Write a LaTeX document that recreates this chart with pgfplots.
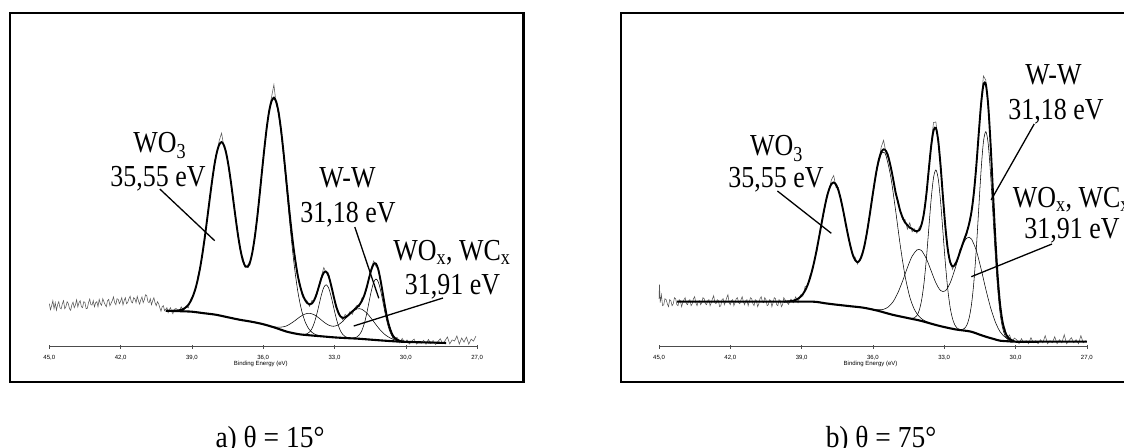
\documentclass[border=0pt]{standalone}
\usepackage{pgfplots}
\pgfplotsset{compat=1.18}
\usepackage{fontspec}
\setmainfont{Liberation Serif}
\newfontfamily\annfont[FakeStretch=0.85]{Liberation Serif}
\newfontfamily\capfont[FakeStretch=0.9]{Liberation Serif}
\newfontfamily\tickfont{Liberation Sans}
\tikzset{
  ann/.style={font=\annfont\fontsize{30.5}{30.5}\selectfont, inner sep=0pt, anchor=base},
  captxt/.style={font=\capfont\fontsize{30.5}{30.5}\selectfont, inner sep=0pt, anchor=base},
  lead/.style={black, line width=1.3pt},
  frm/.style={black, line width=2.3pt},
}
\pgfplotsset{
  xpsaxis/.style={
    scale only axis, width=427.8pt, height=280pt,
    xmin=27, xmax=45, ymin=0, ymax=280, x dir=reverse,
    axis x line=bottom, axis y line=none, ytick=\empty,
    x axis line style={-, line width=0.5pt, black!70},
    xtick={27,30,33,36,39,42,45},
    tick align=center, major tick length=4pt,
    xtick style={black!70, line width=0.5pt},
    /pgf/number format/.cd, fixed, fixed zerofill, precision=1, use comma, assume math mode=true,
    /pgfplots/.cd,
    xticklabel style={font=\tickfont\fontsize{6}{6}\selectfont, anchor=center, yshift=-9pt},
    clip=false,
  },
  raw/.style={black!66, line width=0.55pt, mark=none},
  env/.style={black, line width=1.9pt, smooth, mark=none},
  bgd/.style={black, line width=2.1pt, smooth, mark=none},
  comp/.style={black, line width=0.55pt, smooth, mark=none},
}
\begin{document}
\begin{tikzpicture}[x=1pt,y=1pt]
\clip (0,0) rectangle (1124,447);
\draw[frm] (10,65) rectangle (523.5,434);
\draw[frm] (621,65) rectangle (1140,434);

% ---------------- left panel ----------------
\begin{axis}[xpsaxis, at={(49.3pt,100.3pt)}, anchor=south west]
\addplot[raw] coordinates {
(45.00,43) (44.95,37) (44.90,41) (44.85,46) (44.80,38) (44.75,44) (44.70,36.5) (44.65,42) (44.60,45) (44.55,39)
(44.50,37.8) (44.45,43) (44.40,46) (44.35,38) (44.30,40.1) (44.25,45) (44.20,43.2) (44.15,38) (44.10,36.4) (44.05,42)
(44.00,44.5) (43.95,39) (43.90,41.7) (43.85,47) (43.80,39.8) (43.75,44) (43.70,46) (43.65,40) (43.60,39.1) (43.55,45)
(43.50,44.3) (43.45,38) (43.40,38.4) (43.35,44) (43.30,47.6) (43.25,42) (43.20,41.7) (43.15,46) (43.10,39.9) (43.05,44)
(43.00,45) (42.95,40) (42.90,47.3) (42.85,43) (42.80,41.5) (42.75,48) (42.70,44.8) (42.65,42) (42.60,40) (42.55,46)
(42.50,47.3) (42.45,41) (42.40,43.5) (42.35,46) (42.30,49.8) (42.25,44) (42.20,42) (42.15,48) (42.10,47.3) (42.05,43)
(42.00,45.5) (41.95,49) (41.90,41.8) (41.85,46) (41.80,49) (41.75,43) (41.70,44.3) (41.65,48) (41.60,50.5) (41.55,45)
(41.50,43.8) (41.45,49) (41.40,48) (41.35,44) (41.30,50.3) (41.25,46) (41.20,42.5) (41.15,47) (41.10,49.8) (41.05,44)
(41.00,47) (40.95,52) (40.90,51) (40.85,45) (40.80,44) (40.75,48) (40.70,42) (40.65,46) (40.60,49) (40.55,44)
(40.50,41) (40.45,45) (40.40,43) (40.35,39) (40.30,35.5) (40.25,40) (40.20,41) (40.15,36) (40.10,37.5) (40.05,39)
(40.00,34) (39.95,37) (39.90,39) (39.85,35) (39.80,33) (39.75,37) (39.70,38)
(39.65,38.1) (39.55,35.3) (39.45,39.9) (39.35,35.8) (39.25,40.4) (39.15,38.9) (39.05,47.6) (38.95,51) (38.85,56.1) (38.75,70.5)
(38.65,78.5) (38.55,96) (38.45,107.8) (38.35,130) (38.25,149.7) (38.15,163.9) (38.05,185) (37.95,193.4) (37.85,206.1) (37.75,213.6)
(37.65,199.3) (37.55,195.7) (37.45,177.6) (37.35,164.2) (37.25,142) (37.15,128.8) (37.05,109.9) (36.95,94) (36.85,88.8) (36.75,79.3)
(36.65,81.9) (36.55,81.9) (36.45,96.1) (36.35,112.3) (36.25,127.6) (36.15,154.8) (36.05,174.6) (35.95,196.5) (35.85,220.2) (35.75,237.4)
(35.65,249.5) (35.55,262) (35.45,241.8) (35.35,236.9) (35.25,215) (35.15,196.7) (35.05,169) (34.95,149.9) (34.85,124.9) (34.75,102.1)
(34.65,89.3) (34.55,70.8) (34.45,62.9) (34.35,49.8) (34.25,48.2) (34.15,45.7) (34.05,40.3) (33.95,46.2) (33.85,45.8) (33.75,50.9)
(33.65,61.7) (33.55,70.6) (33.45,79.1) (33.35,74) (33.25,73.8) (33.15,60.3) (33.05,52.9) (32.95,39.2) (32.85,36.7) (32.75,30.3)
(32.65,26.8) (32.55,32.3) (32.45,29.9) (32.35,35.1) (32.25,32.3) (32.15,38.4) (32.05,41.5) (31.95,40) (31.85,48.7) (31.75,50.2)
(31.65,57) (31.55,69.2) (31.45,79) (31.35,85.7) (31.25,79.9) (31.15,78.5) (31.05,64.8) (30.95,48.7) (30.85,39.7) (30.75,24.2)
(30.65,18.9) (30.55,8.5) (30.45,9.4) (30.35,8.9) (30.25,3.8) (30.15,8.3) (30.05,4.1)
(29.95,6.8) (29.85,2.7) (29.75,5.7) (29.65,7.6) (29.55,2.6) (29.45,5.5) (29.35,3.5) (29.25,6.4) (29.15,2.4) (29.05,7.3)
(28.95,3.3) (28.85,6.2) (28.75,2.2) (28.65,5.1) (28.55,8) (28.45,3) (28.35,5.9) (28.25,9.8) (28.15,2.8) (28.05,6.8)
(27.95,5.7) (27.85,10.7) (27.75,2.7) (27.65,8.7) (27.55,4.6) (27.45,9.6) (27.35,2.6) (27.25,7.6) (27.15,5.6) (27.05,10.6)
};
% WO3 component
\addplot[comp] coordinates {
(36.25,129.6) (36.15,151.8) (36.05,175.5) (35.95,198.4) (35.85,219.0) (35.75,235.0) (35.65,244.9) (35.55,248.0) (35.45,243.4) (35.35,231.8)
(35.25,214.0) (35.15,191.6) (35.05,166.5) (34.95,140.8) (34.85,115.9) (34.75,93.0) (34.65,73.0) (34.55,56.3) (34.45,43.3) (34.35,33.2)
(34.25,25.8) (34.15,20.5) (34.05,16.8) (33.95,14.4) (33.85,12.8) (33.75,11.8) (33.65,11.1) (33.55,10.6) (33.45,10.3)
};
% WOx / WCx component
\addplot[comp] coordinates {
(36.05,22.6) (35.85,21.3) (35.65,20.3) (35.45,19.6) (35.25,19.6) (35.05,20.5) (34.85,23.0) (34.65,26.3) (34.45,29.9) (34.25,32.6)
(34.05,33.4) (33.85,31.9) (33.65,28.6) (33.45,24.7) (33.25,21.6) (33.05,20.4) (32.85,21.7) (32.65,25.4) (32.45,30.3) (32.25,35.0)
(32.05,37.8) (31.95,38.0) (31.85,37.4) (31.65,33.9) (31.45,28.2) (31.25,21.9) (31.05,16.0) (30.85,11.6) (30.65,8.6) (30.45,6.7)
(30.25,5.6) (30.05,5.1)
};
% W-W component
\addplot[comp] coordinates {
(34.35,12.2) (34.25,12.4) (34.15,13.0) (34.05,14.7) (33.95,18.1) (33.85,23.9) (33.75,32.1) (33.65,42.0) (33.55,51.9) (33.45,59.3)
(33.35,61.9) (33.25,58.9) (33.15,51.1) (33.05,40.8) (32.95,30.6) (32.85,22.0) (32.75,15.9) (32.65,12.2) (32.55,10.1) (32.45,9.1)
(32.35,8.7) (32.25,8.6) (32.15,8.9) (32.05,9.8) (31.95,12.0) (31.85,16.1) (31.75,22.8) (31.65,32.5) (31.55,44.2) (31.45,55.8)
(31.35,64.5) (31.25,67.7) (31.15,64.2) (31.05,55.1) (30.95,43.2) (30.85,31.1) (30.75,21.1) (30.65,14.0) (30.55,9.5) (30.45,7.1)
(30.35,6.0) (30.25,5.3)
};
% background
\addplot[bgd] coordinates {
(40.1,36) (39.5,35.5) (39.0,35) (38.5,33.5) (38.0,32) (37.5,29.5) (37.0,27) (36.5,25) (36.0,22.5) (35.5,19)
(35.0,15) (34.5,12.5) (34.0,11.3) (33.5,10.3) (33.0,9.3) (32.5,8.6) (32.0,8) (31.5,7.1) (31.0,6.2) (30.5,5.4)
(30.0,4.8) (29.0,4.2) (28.3,3.7)
};
% envelope
\addplot[env] coordinates {
(39.85,35.8) (39.65,36.1) (39.55,36.3) (39.45,36.9) (39.35,37.8) (39.25,39.4) (39.15,41.9) (39.05,45.6) (38.95,51.0) (38.85,58.1)
(38.75,67.5) (38.65,79.5) (38.55,94.0) (38.45,110.8) (38.35,129.0) (38.25,147.7) (38.15,165.9) (38.05,182.0) (37.95,194.4) (37.85,202.1)
(37.75,204.6) (37.65,201.3) (37.55,192.7) (37.45,179.6) (37.35,163.2) (37.25,145.0) (37.15,126.8) (37.05,109.9) (36.95,96.0) (36.85,85.8)
(36.75,80.3) (36.65,79.9) (36.55,84.9) (36.45,95.1) (36.35,110.3) (36.25,129.6) (36.15,151.8) (36.05,175.6) (35.95,198.5) (35.85,219.2)
(35.75,235.4) (35.65,245.5) (35.55,249.0) (35.45,244.8) (35.35,233.9) (35.25,217.0) (35.15,195.7) (35.05,172.0) (34.95,147.9) (34.85,124.9)
(34.75,104.1) (34.65,86.3) (34.55,71.8) (34.45,60.9) (34.35,52.8) (34.25,47.2) (34.15,43.7) (34.05,42.3) (33.95,43.2) (33.85,46.8)
(33.75,52.9) (33.65,60.7) (33.55,68.6) (33.45,74.1) (33.35,75.0) (33.25,70.8) (33.15,62.3) (33.05,51.9) (32.95,42.2) (32.85,34.7)
(32.75,30.3) (32.65,28.8) (32.55,29.3) (32.45,30.9) (32.35,33.1) (32.25,35.3) (32.15,37.4) (32.05,39.5) (31.95,42.0) (31.85,45.7)
(31.75,51.2) (31.65,59.0) (31.55,68.2) (31.45,77.0) (31.35,82.7) (31.25,82.9) (31.15,76.5) (31.05,64.8) (30.95,50.7) (30.85,36.7)
(30.75,25.2) (30.65,16.9) (30.55,11.5) (30.45,8.4) (30.35,6.9) (30.25,5.8) (30.15,5.3) (30.05,5.1)
};
\node[font=\tickfont\fontsize{6}{6}\selectfont] at (axis cs:36.1,0) [yshift=-17pt] {Binding Energy (eV)};
\end{axis}

% ---------------- right panel ----------------
\begin{axis}[xpsaxis, at={(659pt,100.3pt)}, anchor=south west]
\addplot[raw] coordinates {
(45.00,48) (44.98,62) (44.95,44) (44.90,52) (44.85,41) (44.80,42) (44.75,48) (44.70,47) (44.65,43) (44.60,40)
(44.55,47) (44.50,46) (44.45,41) (44.40,43) (44.35,49) (44.30,48) (44.25,42) (44.20,41) (44.15,47) (44.10,46)
(44.05,40) (44.00,44) (43.95,47) (43.90,49) (43.85,43) (43.80,42) (43.75,46) (43.70,47) (43.65,41) (43.60,43)
(43.55,48) (43.50,50) (43.45,44) (43.40,41) (43.35,45) (43.30,46) (43.25,42) (43.20,44) (43.15,49) (43.10,48)
(43.05,43) (43.00,42) (42.95,46) (42.90,47) (42.85,41) (42.80,44) (42.75,48) (42.70,51) (42.65,44) (42.60,43)
(42.55,47) (42.50,46) (42.45,40) (42.40,41) (42.35,47) (42.30,48) (42.25,42) (42.20,45) (42.15,49) (42.10,52)
(42.05,44) (42.00,42) (41.95,46) (41.90,47) (41.85,41) (41.80,44) (41.75,48) (41.70,49) (41.65,44) (41.60,43)
(41.55,47) (41.50,50) (41.45,45) (41.40,42) (41.35,46) (41.30,47) (41.25,41) (41.20,45) (41.15,49) (41.10,48)
(41.05,43) (41.00,41) (40.95,47) (40.90,46) (40.85,40) (40.80,43) (40.75,48) (40.70,50) (40.65,45) (40.60,44)
(40.55,49) (40.50,47) (40.45,41) (40.40,42) (40.35,47) (40.30,46) (40.25,40) (40.20,44) (40.15,49) (40.10,48)
(40.05,42) (40.00,41) (39.95,47) (39.90,46) (39.85,40) (39.80,42) (39.75,49) (39.70,47)
(39.55,42.3) (39.45,47.6) (39.35,44) (39.25,49.8) (39.15,44) (39.05,51.8) (38.95,50.5) (38.85,60.3) (38.75,60.5) (38.65,71.4)
(38.55,75) (38.45,89.1) (38.35,95.8) (38.25,112.5) (38.15,126.5) (38.05,135.2) (37.95,151.3) (37.85,156) (37.75,166.5) (37.65,171.2)
(37.55,159.1) (37.45,159.2) (37.35,145.3) (37.25,137.1) (37.15,120.9) (37.05,113.8) (36.95,101) (36.85,90.2) (36.75,89.7) (36.65,82.6)
(36.55,87.5) (36.45,94.3) (36.35,98.8) (36.25,116.3) (36.15,128.3) (36.05,148.3) (35.95,159.2) (35.85,177.6) (35.75,186.1) (35.65,199.6)
(35.55,206.4) (35.45,193.8) (35.35,192.6) (35.25,177.8) (35.15,168.9) (35.05,151.9) (34.95,147.2) (34.85,135.7) (34.75,127.2) (34.65,127.3)
(34.55,117.6) (34.45,124) (34.35,114.9) (34.25,117.9) (34.15,113.4) (34.05,119.5) (33.95,121.4) (33.85,135.8) (33.75,149.5) (33.65,178.7)
(33.55,203.2) (33.45,224.1) (33.35,224.8) (33.25,203.8) (33.15,183.2) (33.05,147) (32.95,121.6) (32.85,94.6) (32.75,85.7) (32.65,77.3)
(32.55,83.8) (32.45,84.9) (32.35,96.9) (32.25,100) (32.15,109.6) (32.05,111.5) (31.95,125) (31.85,134.3) (31.75,157.1) (31.65,178.6)
(31.55,214.1) (31.45,245.1) (31.35,270.7) (31.25,266.6) (31.15,238.8) (31.05,205.3) (30.95,153.7) (30.85,112.1) (30.75,68.5) (30.65,44.7)
(30.55,23.5) (30.45,18.7) (30.35,8.5) (30.25,11.8) (30.15,4.4) (30.05,8.6)
(29.95,7) (29.85,3) (29.75,8) (29.65,4) (29.55,6) (29.45,3) (29.35,9) (29.25,4) (29.15,6) (29.05,3)
(28.95,7) (28.85,4) (28.75,11) (28.65,3) (28.55,6) (28.45,4) (28.35,10) (28.25,3) (28.15,7) (28.05,4)
(27.95,12) (27.85,3) (27.75,6) (27.65,9) (27.55,4) (27.45,7) (27.35,3) (27.25,11) (27.15,4) (27.05,6)
};
% WO3 component
\addplot[comp] coordinates {
(37.65,164.2) (37.45,156.2) (37.25,136.1) (37.05,111.8) (36.85,92.2) (36.65,84.6) (36.45,92.3) (36.25,114.3) (36.05,145.0) (35.85,174.8)
(35.65,192.6) (35.55,194.3) (35.45,191.1) (35.25,170.2) (35.05,137.2) (34.85,101.5) (34.65,71.2) (34.45,49.9) (34.25,37.0) (34.05,30.1)
(33.85,26.3) (33.65,24.1)
};
% WOx / WCx component
\addplot[comp] coordinates {
(36.15,38.0) (35.95,37.3) (35.75,37.0) (35.55,37.4) (35.35,39.8) (35.15,45.0) (34.95,53.9) (34.75,65.7) (34.55,79.0) (34.35,90.5)
(34.15,96.7) (34.05,97.4) (33.95,96.1) (33.75,88.0) (33.55,75.9) (33.35,63.8) (33.15,56.1) (32.95,55.9) (32.75,63.7) (32.55,77.4)
(32.35,93.1) (32.15,105.3) (32.05,108.6) (31.95,109.5) (31.85,107.6) (31.65,96.3) (31.45,78.0) (31.25,57.6) (31.05,39.2) (30.85,24.8)
(30.65,15.0) (30.45,9.8) (30.25,7.0) (30.05,5.6)
};
% W-W component
\addplot[comp] coordinates {
(34.45,28.5) (34.35,28.4) (34.25,28.9) (34.15,31.1) (34.05,36.4) (33.95,46.7) (33.85,63.7) (33.75,88.0) (33.65,117.7) (33.55,147.1)
(33.45,168.9) (33.35,176.7) (33.25,167.6) (33.15,144.4) (33.05,113.8) (32.95,83.0) (32.85,57.5) (32.75,39.3) (32.65,28.0) (32.55,21.7)
(32.45,18.5) (32.35,17.3) (32.25,17.2) (32.15,18.2) (32.05,21.5) (31.95,28.8) (31.85,42.6) (31.75,65.2) (31.65,97.6) (31.55,136.8)
(31.45,175.7) (31.35,204.7) (31.25,215.0) (31.15,203.2) (31.05,172.8) (30.95,132.3) (30.85,91.6) (30.75,57.8) (30.65,33.7) (30.55,19.3)
(30.45,11.6) (30.35,7.8) (30.25,6.1) (30.15,5.4)
};
% background
\addplot[bgd] coordinates {
(44.25,45) (43,45) (41,45) (39.5,45) (38.5,45) (38.0,43.4) (37.6,42.2) (37.0,40.6) (36.4,39.0) (35.8,36.0)
(35.2,32.1) (34.6,29.0) (34.0,26.0) (33.5,22.7) (33.1,20.2) (32.5,17.2) (31.9,15.2) (31.5,12.0) (31.25,10.0) (30.9,7.6)
(30.65,6.0) (30.3,5.4) (30.0,5.0) (29,5) (28,5) (27,5)
};
% envelope
\addplot[env] coordinates {
(39.75,45.1) (39.55,45.3) (39.45,45.6) (39.35,46.0) (39.25,46.8) (39.15,48.0) (39.05,49.8) (38.95,52.5) (38.85,56.3) (38.75,61.5)
(38.65,68.4) (38.55,77.0) (38.45,87.1) (38.35,98.8) (38.25,111.5) (38.15,124.5) (38.05,137.2) (37.95,148.3) (37.85,157.0) (37.75,162.5)
(37.65,164.2) (37.55,162.1) (37.45,156.2) (37.35,147.3) (37.25,136.1) (37.15,123.9) (37.05,111.8) (36.95,101.0) (36.85,92.2) (36.75,86.7)
(36.65,84.6) (36.55,86.5) (36.45,92.3) (36.35,101.8) (36.25,114.3) (36.15,129.3) (36.05,145.3) (35.95,161.2) (35.85,175.6) (35.75,187.1)
(35.65,194.6) (35.55,197.4) (35.45,195.8) (35.35,189.6) (35.25,179.8) (35.15,167.9) (35.05,154.9) (34.95,145.2) (34.85,135.7) (34.75,129.2)
(34.65,124.3) (34.55,121.6) (34.45,119.0) (34.35,117.9) (34.25,115.9) (34.15,115.4) (34.05,116.5) (33.95,122.4) (33.85,133.8) (33.75,152.5)
(33.65,176.7) (33.55,200.2) (33.45,216.1) (33.35,218.8) (33.25,205.8) (33.15,180.2) (33.05,149.0) (32.95,119.6) (32.85,97.6) (32.75,84.7)
(32.65,80.3) (32.55,81.8) (32.45,86.9) (32.35,93.9) (32.25,101.0) (32.15,107.6) (32.05,114.5) (31.95,123.0) (31.85,135.3) (31.75,154.1)
(31.65,180.6) (31.55,212.1) (31.45,242.1) (31.35,261.7) (31.25,262.6) (31.15,241.8) (31.05,203.3) (30.95,155.7) (30.85,109.1) (30.75,70.5)
(30.65,42.7) (30.55,25.5) (30.45,15.7) (30.35,10.5) (30.25,7.8) (30.15,6.4) (30.05,5.6)
};
\node[font=\tickfont\fontsize{6}{6}\selectfont] at (axis cs:36.1,0) [yshift=-17pt] {Binding Energy (eV)};
\end{axis}

% ---------------- annotations ----------------
\node[ann] at (159.8,294) {WO\textsubscript{3}};
\node[ann] at (158,260.5) {35,55 eV};
\draw[lead] (159.8,258) -- (214.7,206.3);
\node[ann] at (347.4,259) {W-W};
\node[ann] at (348,224) {31,18 eV};
\draw[lead] (354.8,220) -- (378.8,148.7);
\node[ann] at (452,186) {WO\textsubscript{x}, WC\textsubscript{x}};
\node[ann] at (452.5,152.5) {31,91 eV};
\draw[lead] (443,149) -- (353.7,121);

\node[ann] at (776.5,291) {WO\textsubscript{3}};
\node[ann] at (776,259) {35,55 eV};
\draw[lead] (777.4,256) -- (831.3,213.7);
\node[ann] at (1053.5,362) {W-W};
\node[ann] at (1056,327) {31,18 eV};
\draw[lead] (1034.2,323) -- (991.1,247);
\node[ann, anchor=base west] at (1012.6,239.5) {WO\textsubscript{x}, WC\textsubscript{x}};
\node[ann] at (1072,208.5) {31,91 eV};
\draw[lead] (1052,203) -- (971.3,170.3);

\node[captxt] at (270,0) {a) θ = 15°};
\node[captxt] at (881,0) {b) θ = 75°};
\end{tikzpicture}
\end{document}
